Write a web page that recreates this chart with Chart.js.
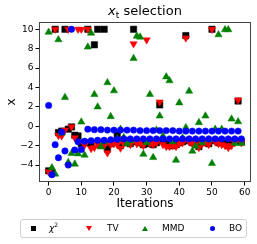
<!DOCTYPE html>
<html>
<head>
<meta charset="utf-8">
<script src="https://cdn.jsdelivr.net/npm/chart.js@4.4.0/dist/chart.umd.min.js"></script>
<style>
    html, body { margin: 0; padding: 0; background: #fff; }
    #wrap { position: relative; width: 257px; height: 244px; font-family: "DejaVu Sans", sans-serif; color: #000; }
    #chart { position: absolute; left: 0; top: 0; }
    #title { position: absolute; left: 39px; width: 212px; top: 3px; text-align: center; font-size: 13px; line-height: 16px; }
    #title sub { font-size: 9px; vertical-align: -3px; line-height: 0; }
    #legend { position: absolute; left: 20px; top: 219px; width: 227px; height: 19px; border: 1px solid #d0d0d0; border-radius: 3px; box-sizing: border-box; font-size: 9px; }
    .lbl { position: absolute; top: 3px; line-height: 11px; white-space: nowrap; }
    .lbl sup { font-size: 6px; vertical-align: 4px; line-height: 0; }
    .mk { position: absolute; }
    .sq { width: 5px; height: 5px; background: #000; top: 6px; }
    .dn { width: 0; height: 0; border-left: 3px solid transparent; border-right: 3px solid transparent; border-top: 5px solid #f00; top: 6px; }
    .up { width: 0; height: 0; border-left: 3px solid transparent; border-right: 3px solid transparent; border-bottom: 5px solid #008000; top: 6px; }
    .ci { width: 5px; height: 5px; border-radius: 50%; background: #00f; top: 6px; }
</style>
</head>
<body>
<div id="wrap">
    <canvas id="chart" width="257" height="244"></canvas>
    <div id="title"><i>x</i><sub>t</sub> selection</div>
    <div id="legend">
        <span class="mk sq" style="left:10px"></span><span class="lbl" style="left:28px"><i>χ</i><sup>2</sup></span>
        <span class="mk dn" style="left:65px"></span><span class="lbl" style="left:86px">TV</span>
        <span class="mk up" style="left:121px"></span><span class="lbl" style="left:141px">MMD</span>
        <span class="mk ci" style="left:189px"></span><span class="lbl" style="left:208px">BO</span>
    </div>
</div>
<script>
// values per iteration (index = iteration number)
const chi2 = [-4.6, -4.8, 10, -0.65, -0.5, 10, -0.3, -0.07, -0.93, -1.0,
    -1.8, -1.7, 10, -1.78, 8.4, 10, -1.9, 10, -2.36, -1.8,
    -1.6, -0.9, -2.0, -1.7, -1.5, -1.8, 10, -1.6, -1.7, -1.9,
    -1.8, -1.6, -1.9, -1.7, 2.2, -1.5, -1.8, -2.0, -2.0, -1.9,
    -1.7, -1.6, 9.35, -1.5, -1.7, -1.6, -2.1, -1.7, -1.6, -1.8,
    10, -1.5, -1.7, -1.6, -1.8, -2.0, -1.7, -1.5, 2.6, -1.6];
const tv = [-4.7, -4.9, 10, -0.95, -1.0, -0.4, 10, -0.07, -1.2, 10,
    10, -1.95, 10, -2.3, -2.2, -1.9, -1.7, -2.0, -2.75, -1.9,
    -1.8, -1.9, -2.26, -1.8, -1.6, -1.9, 8.5, -1.8, -1.7, -2.0,
    8.9, -1.8, -1.9, -1.7, 2.5, -1.9, -2.1, -2.1, -2.0, -2.1,
    -1.8, -1.7, 9.1, -1.6, -1.8, -1.9, -2.2, -1.8, -1.7, -1.9,
    10, -1.6, -1.8, -1.9, -2.0, -2.2, -2.0, -1.7, 2.7, -1.7];
const mmd = [9.7, -4.28, -4.93, 8.93, -0.7, 2.98, -3.74, -2.8, -3.9, -2.84,
    0.44, -2.98, 8.17, 9.6, 3.28, 2.0, -2.13, -1.6, 4.5, 1.0,
    3.66, -1.3, -0.3, -1.15, -1.8, -1.5, 7.0, 9.3, 9.2, -2.88,
    -1.7, 3.28, -3.22, -0.4, 1.06, -1.0, 5.1, 4.7, -1.6, -3.5,
    2.42, -1.2, -0.14, 3.62, -2.57, -2.05, 0.38, -1.7, 1.06, -1.4,
    -3.84, -0.3, 9.44, -0.3, 9.96, 9.96, 0.75, -1.78, 0.47, -1.78];
const bo = [2.15, -5.0, -1.9, -3.25, -0.6, -2.55, -4.0, 10, -2.45, -1.6,
    -2.4, -1.55, -0.3, -1.5, -0.35, -1.45, -0.35, -1.45, -0.4, -1.4,
    -0.4, -1.35, -0.4, -1.3, -0.4, -1.3, -0.4, -1.3, -0.45, -1.3,
    -0.45, -1.3, -0.45, -1.3, -0.45, -1.3, -0.45, -1.3, -0.45, -1.3,
    -0.5, -1.3, -0.5, -1.3, -0.5, -1.3, -0.5, -1.3, -0.5, -1.3,
    -0.5, -1.3, -0.5, -1.3, -0.5, -1.3, -0.5, -1.3, -0.5, -1.3];
const xTicks = [0, 10, 20, 30, 40, 50, 60];
const yTicks = [-4, -2, 0, 2, 4, 6, 8, 10];

const toPoints = arr => arr.map((v, i) => ({ x: i, y: v }));
const minus = v => String(v).replace('-', '\u2212');

// draws the box round the plot area, like matplotlib spines
const frame = {
    id: 'frame',
    afterDraw(chart) {
        const { ctx, chartArea: a } = chart;
        ctx.save();
        ctx.strokeStyle = '#444';
        ctx.lineWidth = 1;
        ctx.strokeRect(a.left + 0.5, a.top + 0.5, a.right - a.left - 1, a.bottom - a.top - 1);
        ctx.restore();
    }
};

new Chart(document.getElementById('chart'), {
    type: 'scatter',
    data: {
        datasets: [
            { label: 'χ2', data: toPoints(chi2), order: 4, pointStyle: 'rect', pointRadius: 4.5,
              backgroundColor: '#000', borderColor: '#000', borderWidth: 0.5 },
            { label: 'TV', data: toPoints(tv), order: 3, pointStyle: 'triangle', rotation: 180, pointRadius: 4.2,
              backgroundColor: '#f00', borderColor: '#f00', borderWidth: 0.5 },
            { label: 'MMD', data: toPoints(mmd), order: 2, pointStyle: 'triangle', pointRadius: 4.2,
              backgroundColor: '#008000', borderColor: '#008000', borderWidth: 0.5 },
            { label: 'BO', data: toPoints(bo), order: 1, pointStyle: 'circle', pointRadius: 3.2,
              backgroundColor: '#00f', borderColor: '#00f', borderWidth: 0.5 }
        ]
    },
    options: {
        responsive: false,
        animation: false,
        events: [],
        layout: { padding: { top: 22, right: 6, left: 0, bottom: 33 } },
        plugins: {
            legend: { display: false },
            tooltip: { enabled: false }
        },
        scales: {
            x: {
                type: 'linear',
                min: -2.95,
                max: 61.95,
                afterBuildTicks: s => { s.ticks = xTicks.map(v => ({ value: v })); },
                afterFit: s => { s.height = 29; },
                grid: { drawOnChartArea: false, tickLength: 3.5, color: '#000' },
                border: { display: false },
                ticks: { color: '#000', padding: 2, maxRotation: 0, font: { family: 'DejaVu Sans', size: 9 }, callback: v => minus(v) },
                title: { display: true, text: 'Iterations', color: '#000', padding: 0, font: { family: 'DejaVu Sans', size: 12 } }
            },
            y: {
                min: -5.75,
                max: 10.75,
                afterBuildTicks: s => { s.ticks = yTicks.map(v => ({ value: v })); },
                afterFit: s => { s.width = 39; },
                grid: { drawOnChartArea: false, tickLength: 3.5, color: '#000' },
                border: { display: false },
                ticks: { color: '#000', padding: 2, font: { family: 'DejaVu Sans', size: 9 }, callback: v => minus(v) },
                title: { display: true, text: 'x', color: '#000', padding: { top: 5, bottom: 0 }, font: { family: 'DejaVu Sans', size: 12 } }
            }
        }
    },
    plugins: [frame]
});
</script>
</body>
</html>
